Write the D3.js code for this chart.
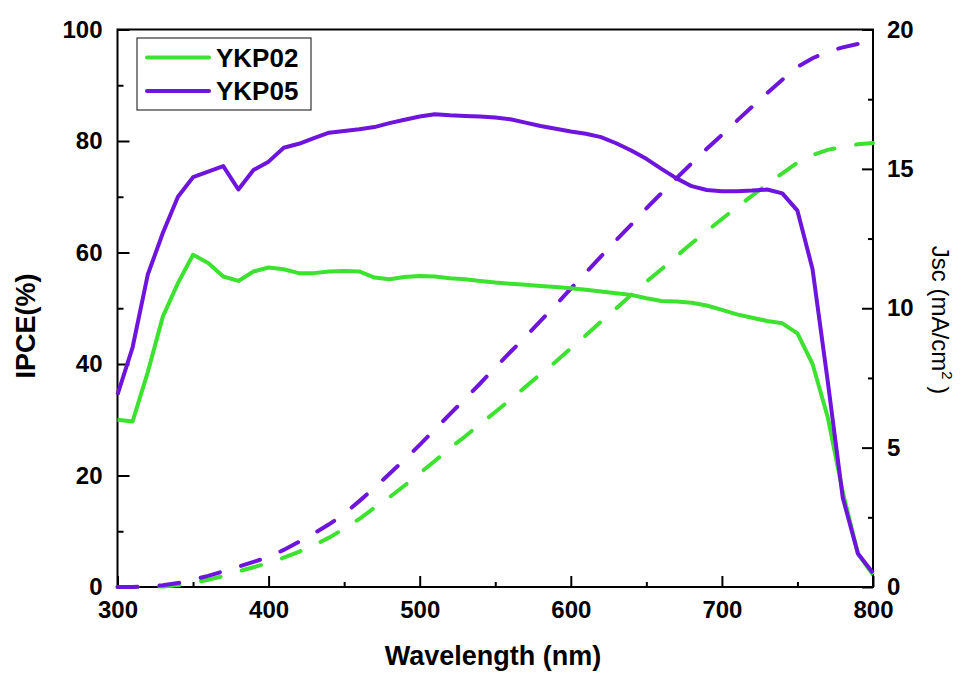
<!DOCTYPE html>
<html>
<head>
<meta charset="utf-8">
<script src="https://d3js.org/d3.v7.min.js"></script>
<style>
  body{ margin:0; background:#fff; }
  svg text{ font-family:"Liberation Sans", Arial, sans-serif; fill:#000; }
  .axis text{ font-size:24px; font-weight:bold; }
  .axis line{ stroke:#000; stroke-width:2px; }
  .axis path{ display:none; }
  .title{ font-size:27px; font-weight:bold; }
  .key text{ font-size:26px; font-weight:bold; }
</style>
</head>
<body>
<svg id="chart" width="964" height="675"></svg>
<script>
// wavelength (nm)
var wavelength = [300,310,320,330,340,350,360,370,380,390,400,410,420,430,440,450,460,470,480,490,
                  500,510,520,530,540,550,560,570,580,590,600,610,620,630,640,650,660,670,680,690,
                  700,710,720,730,740,750,760,770,780,790,800];

// IPCE (%)
var ipce_ykp02 = [30,29.7,38.5,48.5,54.5,59.6,58.1,55.7,54.9,56.6,57.3,57.0,56.3,56.3,56.6,56.7,56.6,55.5,55.2,55.6,
                  55.8,55.7,55.4,55.2,54.9,54.6,54.4,54.2,54.0,53.8,53.6,53.3,53.0,52.7,52.4,51.8,51.3,51.2,51.0,50.5,
                  49.7,48.9,48.3,47.7,47.3,45.5,40,30.5,17,6,2.2];
var ipce_ykp05 = [34.5,43,56,63.5,70,73.5,74.5,75.5,71.3,74.8,76.3,78.8,79.5,80.5,81.5,81.8,82.1,82.5,83.2,83.8,
                  84.4,84.8,84.6,84.5,84.4,84.2,83.9,83.3,82.7,82.2,81.7,81.3,80.7,79.6,78.3,76.8,75.0,73.3,71.9,71.2,
                  71.0,71.0,71.1,71.3,70.6,67.5,57,37,16,6,2.5];

// integrated Jsc (mA/cm2)
var jsc_ykp02 = [0,0,0,0.02,0.06,0.15,0.26,0.39,0.56,0.71,0.86,1.05,1.26,1.50,1.77,2.09,2.44,2.84,3.22,3.64,
                 4.08,4.52,4.98,5.40,5.85,6.28,6.72,7.18,7.64,8.08,8.56,9.03,9.52,9.99,10.48,10.95,11.4,11.87,12.33,12.77,
                 13.2,13.63,14.04,14.45,14.84,15.22,15.5,15.68,15.8,15.88,15.93];
var jsc_ykp05 = [0,0,0.02,0.06,0.14,0.26,0.40,0.56,0.73,0.90,1.08,1.33,1.62,1.92,2.25,2.62,3.08,3.56,4.06,4.57,
                 5.1,5.65,6.2,6.75,7.3,7.87,8.43,8.98,9.55,10.12,10.7,11.28,11.86,12.44,13.0,13.58,14.13,14.67,15.2,15.72,
                 16.22,16.73,17.23,17.72,18.2,18.66,18.97,19.2,19.36,19.48,19.53];

var series_names = ["YKP02","YKP05"];
var series_colors = ["#3de12f","#6e14dc"];

var x_ticks = [300,400,500,600,700,800];
var x_minor = [350,450,550,650,750];
var y_ticks = [0,20,40,60,80,100];
var y_minor = [10,30,50,70,90];
var y2_ticks = [0,5,10,15,20];
var y2_minor = [2.5,7.5,12.5,17.5];

var plot = {left:117.5, right:873, top:29.5, bottom:587};

var svg = d3.select("#chart");

var x = d3.scaleLinear().domain([300,800]).range([plot.left, plot.right]);
var y = d3.scaleLinear().domain([0,100]).range([plot.bottom, plot.top]);
var y2 = d3.scaleLinear().domain([0,20]).range([plot.bottom, plot.top]);

// axes, ticks pointing inward
svg.append("g").attr("class","axis")
   .attr("transform","translate(0,"+plot.bottom+")")
   .call(d3.axisBottom(x).tickValues(x_ticks).tickSize(-11).tickPadding(14).tickFormat(d3.format("d")));
svg.append("g").attr("class","axis")
   .attr("transform","translate(0,"+plot.bottom+")")
   .call(d3.axisBottom(x).tickValues(x_minor).tickSize(-5).tickFormat(""));

svg.append("g").attr("class","axis")
   .attr("transform","translate("+plot.left+",0)")
   .call(d3.axisLeft(y).tickValues(y_ticks).tickSize(-12).tickPadding(15));
svg.append("g").attr("class","axis")
   .attr("transform","translate("+plot.left+",0)")
   .call(d3.axisLeft(y).tickValues(y_minor).tickSize(-6).tickFormat(""));

svg.append("g").attr("class","axis")
   .attr("transform","translate("+plot.right+",0)")
   .call(d3.axisRight(y2).tickValues(y2_ticks).tickSize(-11).tickPadding(14));
svg.append("g").attr("class","axis")
   .attr("transform","translate("+plot.right+",0)")
   .call(d3.axisRight(y2).tickValues(y2_minor).tickSize(-5).tickFormat(""));

// frame
svg.append("rect")
   .attr("x",plot.left).attr("y",plot.top)
   .attr("width",plot.right-plot.left).attr("height",plot.bottom-plot.top)
   .attr("fill","none").attr("stroke","#000").attr("stroke-width",2);

// curves
function pts(vals){ return wavelength.map(function(w,i){ return [w, vals[i]]; }); }

var ipceLine = d3.line().x(function(d){return x(d[0]);}).y(function(d){return y(d[1]);});
var jscLine = d3.line().x(function(d){return x(d[0]);}).y(function(d){return y2(d[1]);});

var jscs = [jsc_ykp02, jsc_ykp05];
var ipces = [ipce_ykp02, ipce_ykp05];

jscs.forEach(function(v,i){
  svg.append("path").datum(pts(v))
     .attr("d",jscLine)
     .attr("fill","none")
     .attr("stroke",series_colors[i])
     .attr("stroke-width",4)
     .attr("stroke-linecap","round")
     .attr("stroke-dasharray","20,22");
});
ipces.forEach(function(v,i){
  svg.append("path").datum(pts(v))
     .attr("d",ipceLine)
     .attr("fill","none")
     .attr("stroke",series_colors[i])
     .attr("stroke-width",4)
     .attr("stroke-linejoin","round");
});

// axis titles
svg.append("text").attr("class","title")
   .attr("x",493).attr("y",665)
   .attr("text-anchor","middle")
   .text("Wavelength (nm)");

svg.append("text").attr("class","title")
   .attr("transform","translate(35,326) rotate(-90)")
   .attr("text-anchor","middle")
   .text("IPCE(%)");

var jt = svg.append("text")
   .attr("transform","translate(932,320) rotate(90)")
   .attr("text-anchor","middle")
   .style("font-size","24px");
jt.append("tspan").text("Jsc (mA/cm");
jt.append("tspan").attr("dy",-10).style("font-size","15px").text("2");
jt.append("tspan").attr("dy",10).text(" )");

// legend
var key = svg.append("g").attr("class","key");
key.append("rect")
   .attr("x",137).attr("y",38).attr("width",174).attr("height",72)
   .attr("fill","#fff").attr("stroke","#333").attr("stroke-width",1.2);

var rows = key.selectAll("g.row").data(series_names).enter().append("g")
   .attr("class","row")
   .attr("transform",function(d,i){ return "translate(0,"+(57.5+i*33.5)+")"; });
rows.append("line")
   .attr("x1",147).attr("x2",209).attr("y1",0).attr("y2",0)
   .attr("stroke",function(d,i){ return series_colors[i]; })
   .attr("stroke-width",4).attr("stroke-linecap","round");
rows.append("text")
   .attr("x",216).attr("y",9)
   .text(function(d){ return d; });
</script>
</body>
</html>
